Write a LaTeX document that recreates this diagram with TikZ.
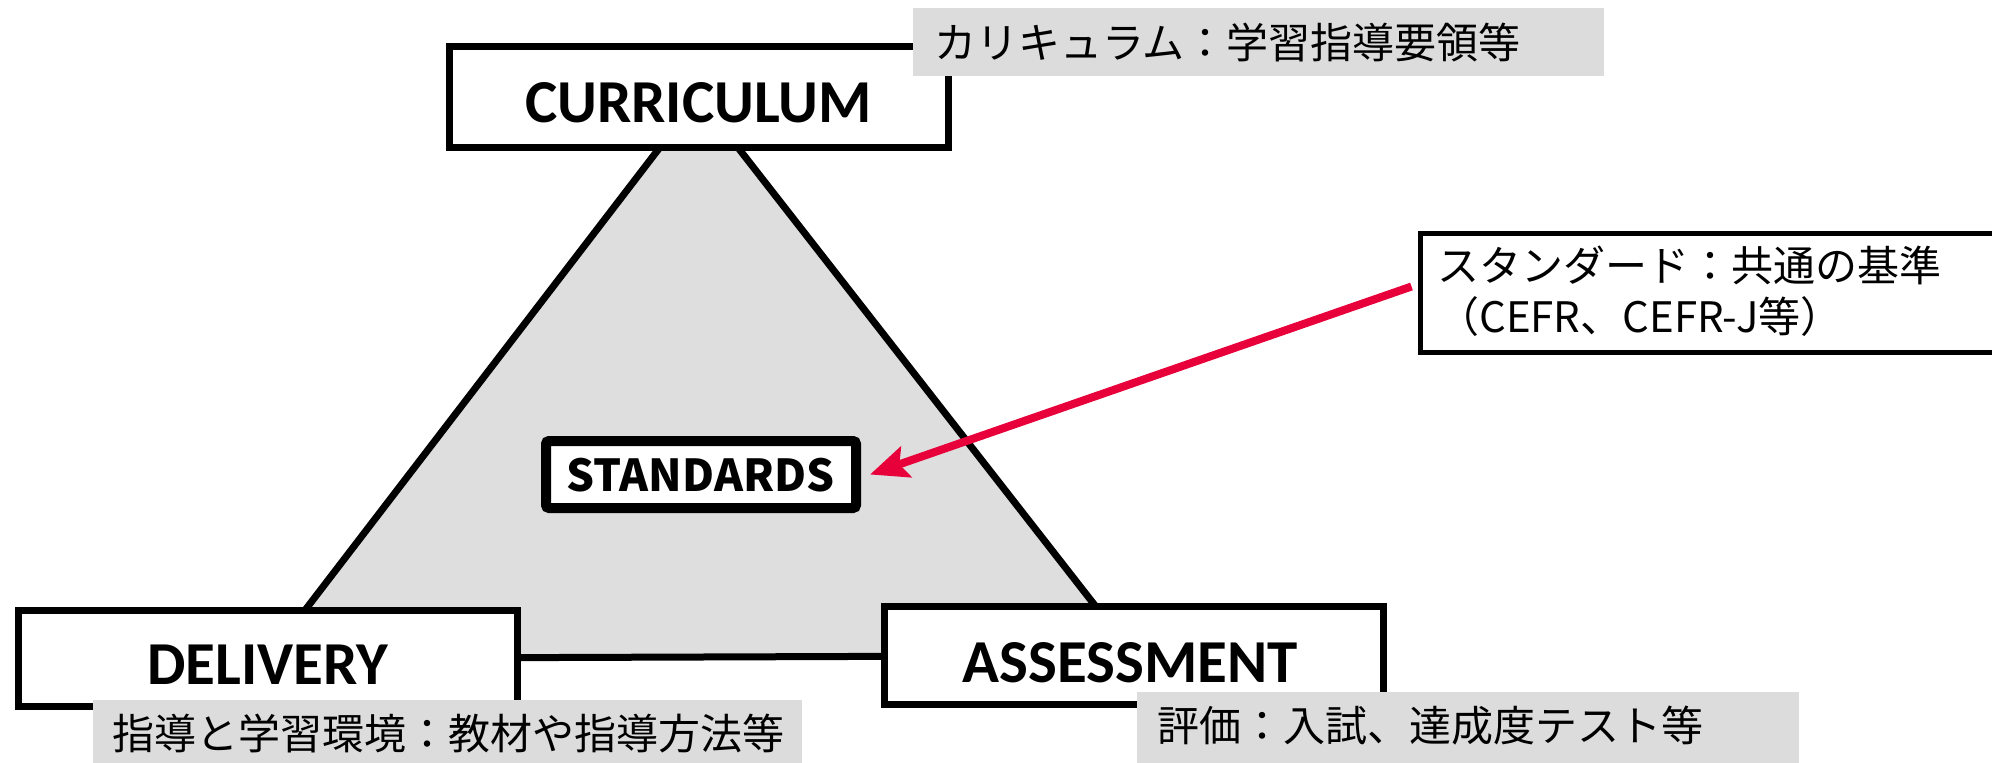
\documentclass[tikz,border=0pt]{standalone}
\usepackage{fontspec}
\newfontfamily\jpfont{Noto Sans CJK JP}
\newfontfamily\boxfont{Carlito}
\usetikzlibrary{arrows.meta,backgrounds}
\definecolor{trigray}{RGB}{222,222,222}
\definecolor{labelgray}{RGB}{220,220,220}
\definecolor{arrowred}{RGB}{232,0,58}
\begin{document}
\begin{tikzpicture}[x=1pt,y=-1pt,
  mainbox/.style={draw=black, fill=white, line width=7pt, rectangle, inner sep=0pt},
  boxtext/.style={font=\boxfont\bfseries\fontsize{61}{61}\selectfont, anchor=base, inner sep=0pt},
  graylabel/.style={fill=labelgray, inner sep=0pt, anchor=north west, rectangle},
  jptext/.style={font=\jpfont\fontsize{42}{51}\selectfont, anchor=base west, inner sep=0pt},
  redarrow/.style={draw=arrowred, line width=8pt, -{Stealth[length=38pt, width=32pt, inset=7pt]}},
]
\useasboundingbox (0,0) rectangle (1992,763);
% main boxes
\node[mainbox, minimum width=499pt, minimum height=101pt] (cur) at (698.5,97) {};
\node[mainbox, minimum width=499pt, minimum height=96pt] (del) at (268,658.5) {};
\node[mainbox, minimum width=499pt, minimum height=98pt] (ass) at (1134,655.5) {};
\node[boxtext] (curtxt) at (698.5,122) {CURRICULUM};
\node[boxtext] (deltxt) at (268,684) {DELIVERY};
\node[boxtext] (asstxt) at (1130,682) {ASSESSMENT};
% triangle
\begin{scope}[on background layer]
\draw[line width=7pt, fill=trigray, line join=miter] (cur.center) -- (del.center) -- (ass.center) -- cycle;
\end{scope}
% standards
\node[draw=black, line width=10pt, fill=white, rounded corners=3pt, minimum width=310pt, minimum height=67pt, inner sep=0pt] (std) at (701,474.5) {};
\node[font=\jpfont\bfseries\fontsize{44}{44}\selectfont, anchor=base, inner sep=0pt] (stdtxt) at (700.5,491) {STANDARDS};
% note box
\node[draw=black, line width=5pt, fill=white, minimum width=590pt, minimum height=119pt, anchor=north west, inner sep=0pt] (note) at (1417.5,230.5) {};
\node[jptext] (note1) at (1437,281) {スタンダード：共通の基準};
\node[jptext] (note2) at (1437,332) {（CEFR、CEFR-J等）};
\draw[redarrow] ([xshift=-6pt,yshift=6pt]note.west) -- ([xshift=9pt]std.east);
% gray labels
\node[graylabel, minimum width=691pt, minimum height=68pt] (curlab) at (913,8) {};
\node[jptext] (curlabtxt) at (934,58) {カリキュラム：学習指導要領等};
\node[graylabel, minimum width=709pt, minimum height=70pt] (dellab) at (93,700) {};
\node[jptext] (dellabtxt) at (112,749) {指導と学習環境：教材や指導方法等};
\node[graylabel, minimum width=662pt, minimum height=80pt] (asslab) at (1137,692) {};
\node[jptext] (asslabtxt) at (1157,741) {評価：入試、達成度テスト等};
\end{tikzpicture}
\end{document}
